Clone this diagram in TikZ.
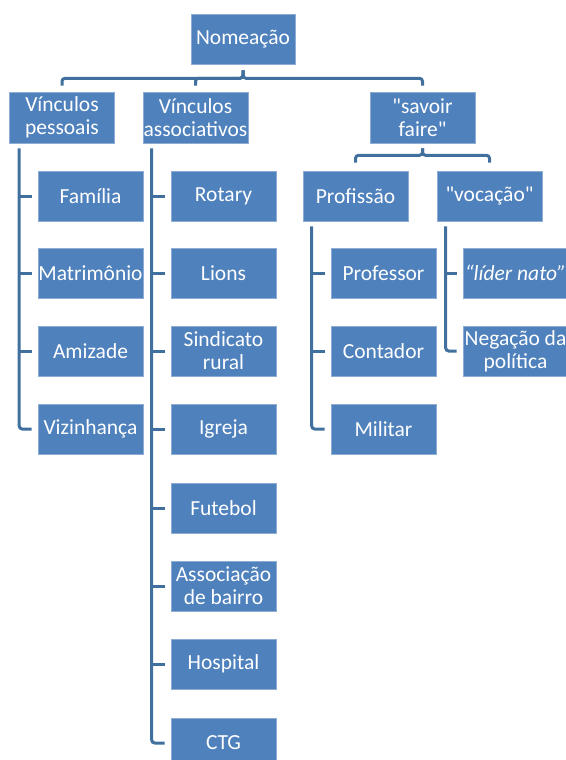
\documentclass[tikz,border=0pt]{standalone}
\usepackage{fontspec}
\newfontfamily\carlito{Carlito}
\definecolor{boxblue}{HTML}{4F81BD}
\definecolor{lineblue}{HTML}{41709E}

\begin{document}
\begin{tikzpicture}[x=1pt, y=1pt,
    item/.style={fill=boxblue, draw=boxblue!65!white, line width=0.6pt, text=white,
      minimum width=105pt, minimum height=50pt, inner sep=0pt, align=center,
      font=\carlito\fontsize{21.5}{23}\selectfont},
    conn/.style={draw=lineblue, line width=3pt, rounded corners=3pt}]
    \useasboundingbox (0,0) rectangle (565,-760);

    % Top
    \node[item, minimum width=104pt] (nome) at (243,-39) {Nomeação};

    % First level
    \node[item, minimum height=51pt] (pess) at (62,-117.5) {Vínculos\\pessoais};
    \node[item, minimum height=51pt] (assoc) at (195.5,-117.5) {Vínculos\\associativos};
    \node[item, minimum height=51pt] (savoir) at (422.5,-117.5) {"savoir\\faire"};

    \draw[conn] ([yshift=-6]nome.south) -- ++(0,-8) -| ([yshift=6]pess.north);
    \draw[conn] ([yshift=-6]nome.south) -- ++(0,-8) -| ([yshift=6]assoc.north);
    \draw[conn] ([yshift=-6]nome.south) -- ++(0,-8) -| ([yshift=6]savoir.north);

    % Savoir faire
    \node[item] (prof) at (355.5,-196) {Profissão};
    \node[item] (voc) at (489.5,-196) {"vocação"};
    \draw[conn] ([yshift=-5]savoir.south) -- ++(0,-7) -| ([yshift=8]prof.north);
    \draw[conn] ([yshift=-5]savoir.south) -- ++(0,-7) -| ([yshift=8]voc.north);

    % Vinculos pessoais
    \node[item] (fam) at (90.5,-196) {Família};
    \node[item] (matr) at (90.5,-273) {Matrimônio};
    \node[item] (amiz) at (90.5,-351) {Amizade};
    \node[item] (viz) at (90.5,-429) {Vizinhança};
    \draw[conn] ([xshift=10,yshift=-5]pess.south west) |- ([xshift=-6]viz.west);
    \draw[conn] ([xshift=-6]fam.west) -- ([xshift=10]pess.south west |- fam.west);
    \draw[conn] ([xshift=-6]matr.west) -- ([xshift=10]pess.south west |- matr.west);
    \draw[conn] ([xshift=-6]amiz.west) -- ([xshift=10]pess.south west |- amiz.west);

    % Vinculos associativos
    \node[item] (rot) at (223.5,-196) {Rotary};
    \node[item] (lions) at (223.5,-273) {Lions};
    \node[item] (sind) at (223.5,-351) {Sindicato\\rural};
    \node[item] (igr) at (223.5,-429) {Igreja};
    \node[item] (fut) at (223.5,-508) {Futebol};
    \node[item] (bairro) at (223.5,-586) {Associação\\de bairro};
    \node[item] (hosp) at (223.5,-664) {Hospital};
    \node[item] (ctg) at (223.5,-743) {CTG};
    \draw[conn] ([xshift=9,yshift=-5]assoc.south west) |- ([xshift=-6]ctg.west);
    \draw[conn] ([xshift=-6]rot.west) -- ([xshift=9]assoc.south west |- rot.west);
    \draw[conn] ([xshift=-6]lions.west) -- ([xshift=9]assoc.south west |- lions.west);
    \draw[conn] ([xshift=-6]sind.west) -- ([xshift=9]assoc.south west |- sind.west);
    \draw[conn] ([xshift=-6]igr.west) -- ([xshift=9]assoc.south west |- igr.west);
    \draw[conn] ([xshift=-6]fut.west) -- ([xshift=9]assoc.south west |- fut.west);
    \draw[conn] ([xshift=-6]bairro.west) -- ([xshift=9]assoc.south west |- bairro.west);
    \draw[conn] ([xshift=-6]hosp.west) -- ([xshift=9]assoc.south west |- hosp.west);

    % Profissao
    \node[item] (profr) at (383.5,-273) {Professor};
    \node[item] (cont) at (383.5,-351) {Contador};
    \node[item] (mil) at (383.5,-429) {Militar};
    \draw[conn] ([xshift=9,yshift=-5]prof.south west) |- ([xshift=-6]mil.west);
    \draw[conn] ([xshift=-6]profr.west) -- ([xshift=9]prof.south west |- profr.west);
    \draw[conn] ([xshift=-6]cont.west) -- ([xshift=9]prof.south west |- cont.west);

    % Vocacao
    \node[item] (lider) at (515.5,-273) {\itshape “líder nato”};
    \node[item] (neg) at (515.5,-351) {Negação da\\política};
    \draw[conn] ([xshift=9,yshift=-5]voc.south west) |- ([xshift=-6]neg.west);
    \draw[conn] ([xshift=-6]lider.west) -- ([xshift=9]voc.south west |- lider.west);
\end{tikzpicture}
\end{document}
